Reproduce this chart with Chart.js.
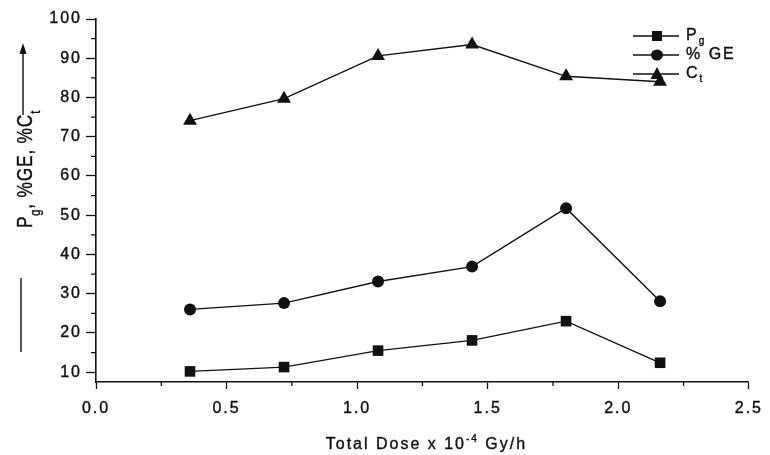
<!DOCTYPE html>
<html>
<head>
<meta charset="utf-8">
<script src="https://cdn.jsdelivr.net/npm/chart.js@4.4.1/dist/chart.umd.min.js"></script>
<style>
  html, body { margin:0; padding:0; background:#fff; }
  #wrap { width:770px; height:455px; position:relative; }
</style>
</head>
<body>
<div id="wrap"><canvas id="doseChart"></canvas></div>
<script>
// --- Data ---
const doses    = [0.36, 0.72, 1.08, 1.44, 1.80, 2.16];
const pgValues = [10.2, 11.3, 15.5, 18.1, 23.0, 12.4];
const geValues = [26.0, 27.6, 33.1, 36.9, 51.8, 28.1];
const ctValues = [74.1, 79.7, 90.6, 93.5, 85.4, 84.0];
const xTicks = [0, 0.5, 1.0, 1.5, 2.0, 2.5];
const xMinorTicks = [0.25, 0.75, 1.25, 1.75, 2.25];
const yTicks = [10, 20, 30, 40, 50, 60, 70, 80, 90, 100];
const yMinorTicks = [15, 25, 35, 45, 55, 65, 75, 85, 95];

// --- Utilities ---
const INK = '#111';
const FONT = '"Liberation Sans", Arial, sans-serif';
const pts = ys => doses.map((x, i) => ({ x, y: ys[i] }));

// text runs (normal / sub / sup), drawn left to right
function runsWidth(ctx, runs, size){
  let w = 0;
  runs.forEach(r => {
    ctx.font = `${r.sub || r.sup ? Math.round(size*0.65) : size}px ${FONT}`;
    w += ctx.measureText(r.t).width;
  });
  return w;
}
function drawRuns(ctx, runs, x, y, size){
  runs.forEach(r => {
    const s = r.sub || r.sup ? Math.round(size*0.65) : size;
    ctx.font = `${s}px ${FONT}`;
    const dy = r.sub ? size*0.35 : r.sup ? -size*0.45 : 0;
    ctx.fillText(r.t, x, y + dy);
    ctx.strokeText(r.t, x, y + dy);
    x += ctx.measureText(r.t).width;
  });
}

function marker(ctx, style, x, y){
  ctx.beginPath();
  if (style === 'rect') {
    ctx.rect(x - 5, y - 5, 10, 10);
  } else if (style === 'circle') {
    ctx.ellipse(x, y, 6, 5.5, 0, 0, Math.PI*2);
  } else {
    ctx.moveTo(x, y - 7); ctx.lineTo(x + 6.5, y + 5); ctx.lineTo(x - 6.5, y + 5); ctx.closePath();
  }
  ctx.fill();
}

// --- Extra drawing: minor ticks, legend, axis titles ---
const decor = {
  id: 'decor',
  beforeDraw(chart){
    chart.ctx.letterSpacing = '2px';
  },
  afterDraw(chart){
    const ctx = chart.ctx;
    const xs = chart.scales.x, ys = chart.scales.y;
    const area = chart.chartArea;
    ctx.save();
    ctx.strokeStyle = INK; ctx.fillStyle = INK; ctx.lineWidth = 1.3;

    // minor ticks
    ctx.beginPath();
    xMinorTicks.forEach(v => { const p = xs.getPixelForValue(v); ctx.moveTo(p, area.bottom); ctx.lineTo(p, area.bottom + 4); });
    yMinorTicks.forEach(v => { const p = ys.getPixelForValue(v); ctx.moveTo(area.left, p); ctx.lineTo(area.left - 5, p); });
    ctx.stroke();

    // legend
    const rows = [
      { style:'rect',   y:36, runs:[{t:'P'},{t:'g', sub:true}] },
      { style:'circle', y:55, runs:[{t:'% GE'}] },
      { style:'triangle', y:74, runs:[{t:'C'},{t:'t', sub:true}] },
    ];
    ctx.textBaseline = 'middle'; ctx.textAlign = 'left';
    rows.forEach(r => {
      ctx.lineWidth = 1.3;
      ctx.beginPath(); ctx.moveTo(633, r.y); ctx.lineTo(679, r.y); ctx.stroke();
      marker(ctx, r.style, 657, r.y);
      ctx.lineWidth = 0.4;
      drawRuns(ctx, r.runs, 686, r.y, 16);
    });

    // x axis title
    ctx.textBaseline = 'alphabetic';
    ctx.lineWidth = 0.4;
    const xRuns = [{t:'Total Dose x 10'}, {t:'-4', sup:true}, {t:' Gy/h'}];
    const w = runsWidth(ctx, xRuns, 16);
    drawRuns(ctx, xRuns, (area.left + area.right)/2 - w/2 + 4, 449, 16);

    // y axis title, rotated, squeezed to fit between its two rules
    const yRuns = [{t:'P'},{t:'g', sub:true},{t:', %GE, %C'},{t:'t', sub:true}];
    ctx.letterSpacing = '1px';
    const yw = runsWidth(ctx, yRuns, 22);
    const k = Math.min(1, 118 / yw);
    ctx.save();
    ctx.translate(32, 228);
    ctx.rotate(-Math.PI/2);
    ctx.scale(k, 1);
    drawRuns(ctx, yRuns, 0, 0, 22);
    ctx.restore();

    ctx.lineWidth = 1.4;
    ctx.beginPath();
    ctx.moveTo(21, 278); ctx.lineTo(21, 352);
    ctx.moveTo(23, 115); ctx.lineTo(23, 52);
    ctx.stroke();
    ctx.beginPath();
    ctx.moveTo(23, 43); ctx.lineTo(26.5, 54); ctx.lineTo(19.5, 54); ctx.closePath();
    ctx.fill();
    ctx.restore();
  }
};

const series = (label, data, style, radius) => ({
  label, data: pts(data), showLine: true,
  borderColor: INK, borderWidth: 1.4,
  pointStyle: style, pointRadius: radius, pointHoverRadius: radius,
  pointBackgroundColor: INK, pointBorderColor: INK, pointBorderWidth: 0,
});

const tickFont = { family: FONT, size: 16 };

new Chart(document.getElementById('doseChart'), {
  type: 'scatter',
  data: {
    datasets: [
      series('Pg', pgValues, 'rect', 7.5),
      series('% GE', geValues, 'circle', 6),
      series('Ct', ctValues, 'triangle', 8),
    ]
  },
  options: {
    responsive: true, maintainAspectRatio: false, animation: false,
    layout: { padding: { left: 0, right: 13, top: 19, bottom: 0 } },
    plugins: { legend: { display: false }, tooltip: { enabled: false } },
    scales: {
      x: {
        type: 'linear', min: 0, max: 2.5,
        afterBuildTicks: s => { s.ticks = xTicks.map(v => ({ value: v })); },
        afterFit: s => { s.height = 73; },
        border: { display: true, color: INK, width: 1.6 },
        grid: { drawOnChartArea: false, tickLength: 7, tickColor: INK, tickWidth: 1.3 },
        ticks: { color: INK, padding: 10, maxRotation: 0, font: tickFont,
                 textStrokeColor: INK, textStrokeWidth: 0.4,
                 callback: v => v.toFixed(1) },
      },
      y: {
        type: 'linear', min: 7.5, max: 100,
        afterBuildTicks: s => { s.ticks = yTicks.map(v => ({ value: v })); },
        afterFit: s => { s.width = 96; },
        border: { display: true, color: INK, width: 1.6 },
        grid: { drawOnChartArea: false, tickLength: 10, tickColor: INK, tickWidth: 1.3 },
        ticks: { color: INK, padding: 4, font: tickFont,
                 textStrokeColor: INK, textStrokeWidth: 0.4 },
      }
    }
  },
  plugins: [decor]
});
</script>
</body>
</html>
